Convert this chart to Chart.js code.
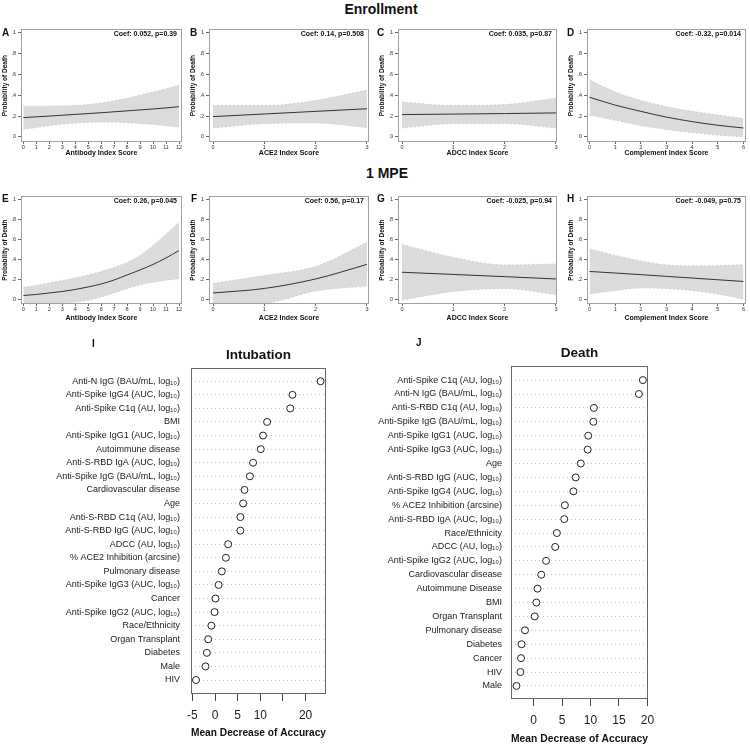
<!DOCTYPE html>
<html>
<head>
<meta charset="utf-8">
<script src="https://cdn.jsdelivr.net/npm/chart.js@4.4.0/dist/chart.umd.min.js"></script>
<style>
  body { margin: 0; background: #fff; width: 750px; height: 747px; position: relative; overflow: hidden;
         font-family: "Liberation Sans", Arial, Helvetica, sans-serif; }
  canvas { position: absolute; }
  .head { position: absolute; font-weight: bold; color: #111; transform: translate(-50%, -50%); white-space: nowrap; font-size: 14px; }
  .tag { position: absolute; font-weight: bold; color: #111; line-height: 10px; font-size: 10px; }
</style>
</head>
<body>
<div class="head" style="left:381px;top:9px">Enrollment</div>
<div class="head" style="left:387px;top:173px">1 MPE</div>

<canvas id="pA" width="186" height="136" style="left:0;top:24px"></canvas>
<canvas id="pB" width="185" height="136" style="left:188px;top:24px"></canvas>
<canvas id="pC" width="184" height="136" style="left:377px;top:24px"></canvas>
<canvas id="pD" width="184" height="136" style="left:566px;top:24px"></canvas>
<canvas id="pE" width="186" height="131" style="left:0;top:191px"></canvas>
<canvas id="pF" width="185" height="131" style="left:188px;top:191px"></canvas>
<canvas id="pG" width="184" height="131" style="left:377px;top:191px"></canvas>
<canvas id="pH" width="184" height="131" style="left:566px;top:191px"></canvas>
<canvas id="pI" width="345" height="417" style="left:0;top:330px"></canvas>
<canvas id="pJ" width="405" height="417" style="left:345px;top:330px"></canvas>

<div class="tag" style="left:2px;top:28px">A</div>
<div class="tag" style="left:190px;top:28px">B</div>
<div class="tag" style="left:377px;top:28px">C</div>
<div class="tag" style="left:567px;top:28px">D</div>
<div class="tag" style="left:2px;top:194px">E</div>
<div class="tag" style="left:191px;top:194px">F</div>
<div class="tag" style="left:377px;top:194px">G</div>
<div class="tag" style="left:567px;top:194px">H</div>
<div class="tag" style="left:92px;top:339px">I</div>
<div class="tag" style="left:416px;top:338px">J</div>

<script>
// x values of the index scores
const antibodyScore = [0, 1, 2, 3, 4, 5, 6, 7, 8, 9, 10, 11, 12];
const ace2Score = [0, 1, 2, 3];
const adccScore = [0, 1, 2, 3];
const complementScore = [0, 1, 2, 3, 4, 5, 6];

// Enrollment: predicted probability of death with 95% band
const enrAntibodyMean  = [0.185, 0.193, 0.200, 0.208, 0.216, 0.224, 0.232, 0.241, 0.250, 0.259, 0.268, 0.278, 0.290];
const enrAntibodyUpper = [0.295, 0.295, 0.295, 0.296, 0.300, 0.310, 0.325, 0.345, 0.370, 0.400, 0.430, 0.460, 0.495];
const enrAntibodyLower = [0.073, 0.090, 0.110, 0.124, 0.134, 0.140, 0.144, 0.143, 0.137, 0.130, 0.120, 0.108, 0.096];
const enrAce2Mean  = [0.195, 0.220, 0.245, 0.270];
const enrAce2Upper = [0.300, 0.300, 0.350, 0.450];
const enrAce2Lower = [0.086, 0.128, 0.134, 0.090];
const enrAdccMean  = [0.214, 0.219, 0.224, 0.230];
const enrAdccUpper = [0.335, 0.300, 0.310, 0.370];
const enrAdccLower = [0.086, 0.128, 0.128, 0.086];
const enrComplementMean  = [0.380, 0.305, 0.245, 0.190, 0.147, 0.112, 0.086];
const enrComplementUpper = [0.545, 0.430, 0.350, 0.290, 0.246, 0.210, 0.176];
const enrComplementLower = [0.210, 0.160, 0.110, 0.072, 0.042, 0.018, 0.002];

// 1 MPE
const mpeAntibodyMean  = [0.040, 0.050, 0.065, 0.080, 0.100, 0.125, 0.155, 0.195, 0.245, 0.295, 0.350, 0.415, 0.488];
const mpeAntibodyUpper = [0.122, 0.140, 0.165, 0.190, 0.215, 0.245, 0.280, 0.320, 0.370, 0.440, 0.540, 0.650, 0.770];
const mpeAntibodyLower = [-0.040, -0.040, -0.039, -0.035, -0.026, -0.008, 0.025, 0.065, 0.110, 0.148, 0.172, 0.192, 0.208];
const mpeAce2Mean  = [0.065, 0.110, 0.205, 0.350];
const mpeAce2Upper = [0.160, 0.240, 0.330, 0.570];
const mpeAce2Lower = [-0.040, -0.035, 0.085, 0.135];
const mpeAdccMean  = [0.272, 0.250, 0.228, 0.205];
const mpeAdccUpper = [0.550, 0.420, 0.345, 0.355];
const mpeAdccLower = [-0.005, 0.080, 0.110, 0.050];
const mpeComplementMean  = [0.280, 0.264, 0.248, 0.231, 0.214, 0.197, 0.180];
const mpeComplementUpper = [0.505, 0.440, 0.385, 0.345, 0.335, 0.338, 0.348];
const mpeComplementLower = [0.055, 0.090, 0.115, 0.110, 0.090, 0.055, 0.005];

const coefLabels = ['Coef: 0.052, p=0.39', 'Coef: 0.14, p=0.508', 'Coef: 0.035, p=0.87', 'Coef: -0.32, p=0.014',
                    'Coef: 0.26, p=0.045', 'Coef: 0.56, p=0.17', 'Coef: -0.025, p=0.94', 'Coef: -0.049, p=0.75'];
const probTicks = [0, 0.2, 0.4, 0.6, 0.8, 1];
const probTickLabels = ['0', '.2', '.4', '.6', '.8', '1'];

// Random forest variable importance
const intubationLabels = ['Anti-N IgG (BAU/mL, log₁₀)', 'Anti-Spike IgG4 (AUC, log₁₀)', 'Anti-Spike C1q (AU, log₁₀)', 'BMI',
  'Anti-Spike IgG1 (AUC, log₁₀)', 'Autoimmune disease', 'Anti-S-RBD IgA (AUC, log₁₀)', 'Anti-Spike IgG (BAU/mL, log₁₀)',
  'Cardiovascular disease', 'Age', 'Anti-S-RBD C1q (AU, log₁₀)', 'Anti-S-RBD IgG (AUC, log₁₀)', 'ADCC (AU, log₁₀)',
  '% ACE2 Inhibition (arcsine)', 'Pulmonary disease', 'Anti-Spike IgG3 (AUC, log₁₀)', 'Cancer', 'Anti-Spike IgG2 (AUC, log₁₀)',
  'Race/Ethnicity', 'Organ Transplant', 'Diabetes', 'Male', 'HIV'];
const intubationValues = [23.3, 17.1, 16.6, 11.5, 10.6, 10.1, 8.4, 7.7, 6.5, 6.2, 5.6, 5.6, 2.9,
  2.4, 1.5, 0.8, 0.1, -0.1, -0.8, -1.5, -1.8, -2.1, -4.2];
const intubationTicks = [-5, 0, 5, 10, 15, 20];
const intubationTickLabels = ['-5', '0', '5', '10', '', '20'];

const deathLabels = ['Anti-Spike C1q (AU, log₁₀)', 'Anti-N IgG (BAU/mL, log₁₀)', 'Anti-S-RBD C1q (AU, log₁₀)',
  'Anti-Spike IgG (BAU/mL, log₁₀)', 'Anti-Spike IgG1 (AUC, log₁₀)', 'Anti-Spike IgG3 (AUC, log₁₀)', 'Age',
  'Anti-S-RBD IgG (AUC, log₁₀)', 'Anti-Spike IgG4 (AUC, log₁₀)', '% ACE2 Inhibition (arcsine)', 'Anti-S-RBD IgA (AUC, log₁₀)',
  'Race/Ethnicity', 'ADCC (AU, log₁₀)', 'Anti-Spike IgG2 (AUC, log₁₀)', 'Cardiovascular disease', 'Autoimmune Disease',
  'BMI', 'Organ Transplant', 'Pulmonary disease', 'Diabetes', 'Cancer', 'HIV', 'Male'];
const deathValues = [19.2, 18.5, 10.6, 10.5, 9.6, 9.5, 8.3, 7.4, 7.0, 5.5, 5.4, 4.1, 3.8,
  2.2, 1.35, 0.7, 0.5, 0.2, -1.5, -2.1, -2.2, -2.3, -3.0];
const deathTicks = [0, 5, 10, 15, 20];
const deathTickLabels = ['0', '5', '10', '15', '20'];

const FONT = '"Liberation Sans", Arial, Helvetica, sans-serif';
Chart.defaults.font.family = FONT;
Chart.defaults.color = '#222';
Chart.defaults.animation = false;
Chart.defaults.plugins.legend.display = false;
Chart.defaults.plugins.tooltip.enabled = false;

const toPoints = (xs, ys) => xs.map((x, i) => ({ x: x, y: ys[i] }));

// box round the plot region + optional corner text
const boxPlugin = {
  id: 'box',
  afterDatasetsDraw(chart, args, opts) {
    const { ctx, chartArea: a } = chart;
    ctx.save();
    ctx.strokeStyle = opts.color;
    ctx.lineWidth = 1;
    ctx.strokeRect(Math.round(a.left) + 0.5, Math.round(a.top) + 0.5,
                   Math.round(a.right - a.left) - 1, Math.round(a.bottom - a.top) - 1);
    if (opts.text) {
      ctx.font = 'bold 7px ' + FONT;
      ctx.fillStyle = '#111';
      ctx.textAlign = 'right';
      ctx.textBaseline = 'middle';
      ctx.fillText(opts.text, a.right - 5, a.top + 4.5);
    }
    ctx.restore();
  }
};

function drawPanel(p) {
  const band = { pointRadius: 0, borderColor: '#c9c9c9', borderWidth: 0.8, borderDash: [2, 2], cubicInterpolationMode: 'monotone' };
  new Chart(document.getElementById(p.id), {
    type: 'line',
    data: {
      datasets: [
        { data: toPoints(p.x, p.mean), borderColor: '#333', borderWidth: 1, pointRadius: 0, fill: false, cubicInterpolationMode: 'monotone' },
        Object.assign({ data: toPoints(p.x, p.lower), fill: false }, band),
        Object.assign({ data: toPoints(p.x, p.upper), fill: '-1', backgroundColor: '#dcdcdc' }, band)
      ]
    },
    options: {
      responsive: false,
      devicePixelRatio: 1,
      layout: { padding: { top: 5, right: 4, left: 0, bottom: 0 } },
      plugins: { box: { color: '#a0a0a0', text: p.coef } },
      scales: {
        x: {
          type: 'linear', min: p.xMin, max: p.xMax,
          afterFit: s => { s.height = 18; },
          afterBuildTicks: s => { s.ticks = p.x.map(v => ({ value: v })); },
          ticks: { font: { size: 5.5 }, padding: 0, maxRotation: 0, autoSkip: false, color: '#333' },
          grid: { drawOnChartArea: false, drawTicks: true, tickLength: 2, tickColor: '#666' },
          border: { display: false },
          title: { display: true, text: p.xTitle, font: { size: 7, weight: 'bold' }, color: '#111',
                   padding: { top: 0, bottom: p.titlePad } }
        },
        y: {
          min: p.yMin, max: 1.03,
          afterFit: s => { s.width = 21; },
          afterBuildTicks: s => { s.ticks = probTicks.map(v => ({ value: v })); },
          ticks: { font: { size: 5.5 }, padding: 2, autoSkip: false, color: '#333',
                   callback: (v, i) => probTickLabels[i] },
          grid: { drawOnChartArea: false, drawTicks: true, tickLength: 3, tickColor: '#666' },
          border: { display: false },
          title: { display: true, text: 'Probability of Death', font: { size: 6.5, weight: 'bold' }, color: '#111',
                   padding: { top: 1, bottom: 0 } }
        }
      }
    },
    plugins: [boxPlugin]
  });
}

const row1 = { yMin: -0.048, titlePad: 3 };
const row2 = { yMin: -0.045, titlePad: 0 };
const panels = [
  Object.assign({ id: 'pA', x: antibodyScore, mean: enrAntibodyMean, upper: enrAntibodyUpper, lower: enrAntibodyLower,
    xMin: -0.18, xMax: 12.23, xTitle: 'Antibody Index Score', coef: coefLabels[0] }, row1),
  Object.assign({ id: 'pB', x: ace2Score, mean: enrAce2Mean, upper: enrAce2Upper, lower: enrAce2Lower,
    xMin: -0.078, xMax: 3.04, xTitle: 'ACE2 Index Score', coef: coefLabels[1] }, row1),
  Object.assign({ id: 'pC', x: adccScore, mean: enrAdccMean, upper: enrAdccUpper, lower: enrAdccLower,
    xMin: -0.078, xMax: 3.02, xTitle: 'ADCC Index Score', coef: coefLabels[2] }, row1),
  Object.assign({ id: 'pD', x: complementScore, mean: enrComplementMean, upper: enrComplementUpper, lower: enrComplementLower,
    xMin: -0.1, xMax: 6.1, xTitle: 'Complement Index Score', coef: coefLabels[3] }, row1),
  Object.assign({ id: 'pE', x: antibodyScore, mean: mpeAntibodyMean, upper: mpeAntibodyUpper, lower: mpeAntibodyLower,
    xMin: -0.18, xMax: 12.23, xTitle: 'Antibody Index Score', coef: coefLabels[4] }, row2),
  Object.assign({ id: 'pF', x: ace2Score, mean: mpeAce2Mean, upper: mpeAce2Upper, lower: mpeAce2Lower,
    xMin: -0.078, xMax: 3.04, xTitle: 'ACE2 Index Score', coef: coefLabels[5] }, row2),
  Object.assign({ id: 'pG', x: adccScore, mean: mpeAdccMean, upper: mpeAdccUpper, lower: mpeAdccLower,
    xMin: -0.078, xMax: 3.02, xTitle: 'ADCC Index Score', coef: coefLabels[6] }, row2),
  Object.assign({ id: 'pH', x: complementScore, mean: mpeComplementMean, upper: mpeComplementUpper, lower: mpeComplementLower,
    xMin: -0.1, xMax: 6.1, xTitle: 'Complement Index Score', coef: coefLabels[7] }, row2)
];
panels.forEach(drawPanel);

function drawDots(d) {
  new Chart(document.getElementById(d.id), {
    type: 'scatter',
    data: {
      datasets: [{
        data: d.values.map((v, i) => ({ x: v, y: i })),
        pointRadius: 3.5, borderWidth: 1, borderColor: '#222', backgroundColor: '#fff'
      }]
    },
    options: {
      responsive: false,
      devicePixelRatio: 1,
      layout: { padding: { top: 0, right: d.right, left: 0, bottom: 0 } },
      plugins: {
        box: { color: '#666' },
        title: { display: true, fullSize: false, text: d.title, color: '#111',
                 font: { size: 13.5, weight: 'bold' }, padding: { top: d.titleTop, bottom: d.titleBottom } }
      },
      scales: {
        x: {
          type: 'linear', min: d.xMin, max: d.xMax,
          afterFit: s => { s.height = d.axisHeight; },
          afterBuildTicks: s => { s.ticks = d.ticks.map(v => ({ value: v })); },
          ticks: { font: { size: 12 }, padding: 7, maxRotation: 0, autoSkip: false, color: '#222',
                   callback: (v, i) => d.tickLabels[i] },
          grid: { drawOnChartArea: false, drawTicks: true, tickLength: 7, tickColor: '#444' },
          border: { display: false },
          title: { display: true, text: 'Mean Decrease of Accuracy', color: '#111',
                   font: { size: 11.6, weight: 'bold' }, padding: { top: 0, bottom: d.xTitlePad } }
        },
        y: {
          type: 'linear', reverse: true, min: d.yMin, max: d.yMax,
          afterFit: s => { s.width = d.labelWidth; },
          afterBuildTicks: s => { s.ticks = d.labels.map((_, i) => ({ value: i })); },
          ticks: { font: { size: 9 }, padding: d.labelPad, autoSkip: false, color: '#1a1a1a',
                   callback: (v, i) => d.labels[i] },
          grid: { drawOnChartArea: true, drawTicks: false, color: '#c0c0c0', lineWidth: 1 },
          border: { display: false, dash: [1, 3] }
        }
      }
    },
    plugins: [boxPlugin]
  });
}

drawDots({ id: 'pI', title: 'Intubation', labels: intubationLabels, values: intubationValues,
  ticks: intubationTicks, tickLabels: intubationTickLabels, xMin: -5.3, xMax: 24.5, yMin: -0.96, yMax: 23.03,
  right: 19, labelWidth: 191, labelPad: 11, axisHeight: 53, xTitlePad: 7, titleTop: 17, titleBottom: 5 });
drawDots({ id: 'pJ', title: 'Death', labels: deathLabels, values: deathValues,
  ticks: deathTicks, tickLabels: deathTickLabels, xMin: -3.96, xMax: 20.1, yMin: -1.0, yMax: 22.94,
  right: 102, labelWidth: 166, labelPad: 9, axisHeight: 48, xTitlePad: 1, titleTop: 15, titleBottom: 5 });
</script>
</body>
</html>
